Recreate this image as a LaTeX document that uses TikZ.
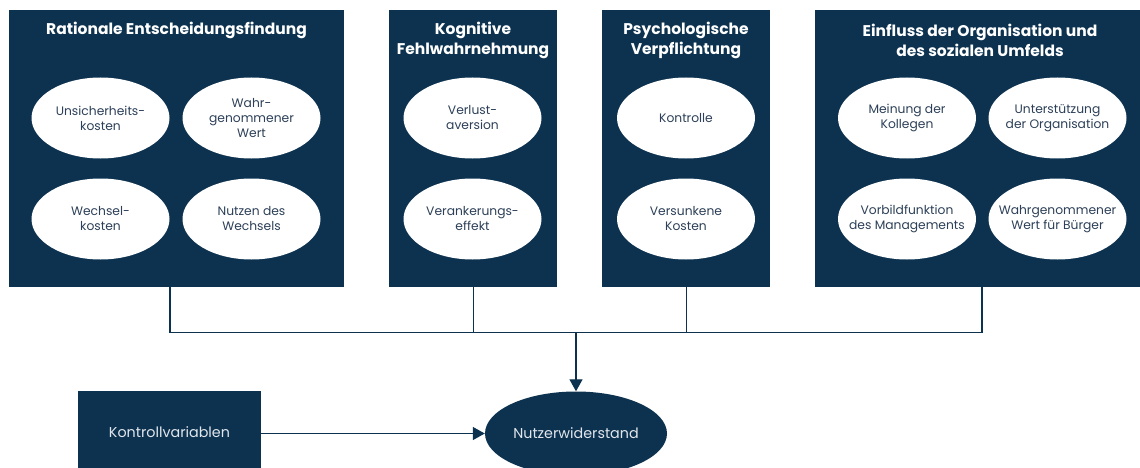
\documentclass[tikz,border=0pt]{standalone}
\usepackage{fontspec}
\setmainfont{Poppins}
\usetikzlibrary{shapes.geometric,arrows.meta}
\definecolor{navy}{RGB}{12,50,80}
\definecolor{etext}{RGB}{45,64,88}
\definecolor{ltext}{RGB}{225,230,236}
\begin{document}
\begin{tikzpicture}[x=1pt,y=-1pt,
  panel/.style={fill=navy,draw=none,anchor=north west,inner sep=0pt},
  ptitle/.style={text=white,font=\fontsize{15.5}{19.5}\selectfont\bfseries,align=center,inner sep=0pt},
  oval/.style={ellipse,fill=white,draw=none,minimum width=138pt,minimum height=81pt,
    inner xsep=-18pt,inner ysep=-8pt,
    text=etext,font=\fontsize{12.3}{15}\selectfont,align=center},
  conn/.style={draw=navy,line width=1.3pt},
  tip/.style={-{Triangle[length=12pt,width=13pt]}}]
\useasboundingbox (0,0) rectangle (1140,468);
\clip (0,0) rectangle (1140,468);
% panels
\node[panel,minimum width=335pt,minimum height=277pt] (b1) at (9,10) {};
\node[panel,minimum width=168pt,minimum height=277pt] (b2) at (389,10) {};
\node[panel,minimum width=168pt,minimum height=277pt] (b3) at (602,10) {};
\node[panel,minimum width=330pt,minimum height=277pt] (b4) at (815,10) {};
% titles
\node[ptitle] (t1) at (176.5,30.5) {Rationale Entscheidungsfindung};
\node[ptitle] (t2) at (473,40.5) {Kognitive\\Fehlwahrnehmung};
\node[ptitle] (t3) at (686,40.5) {Psychologische\\Verpflichtung};
\node[ptitle] (t4) at (980,40.5) {Einfluss der Organisation und\\des sozialen Umfelds};
% ovals
\node[oval] (e11) at (100.5,118) {Unsicherheits-\\kosten};
\node[oval] (e12) at (251.5,118) {Wahr-\\genommener\\Wert};
\node[oval] (e13) at (100.5,219) {Wechsel-\\kosten};
\node[oval] (e14) at (251.5,219) {Nutzen des\\Wechsels};
\node[oval] (e21) at (472.5,118) {Verlust-\\aversion};
\node[oval] (e22) at (472.5,219) {Verankerungs-\\effekt};
\node[oval] (e31) at (686,118) {Kontrolle};
\node[oval] (e32) at (686,219) {Versunkene\\Kosten};
\node[oval] (e41) at (907,118) {Meinung der\\Kollegen};
\node[oval] (e42) at (1057.5,118) {Unterstützung\\der Organisation};
\node[oval] (e43) at (907,219) {Vorbildfunktion\\des Managements};
\node[oval] (e44) at (1057.5,219) {Wahrgenommener\\Wert für Bürger};
% bottom
\node[panel,minimum width=183pt,minimum height=90pt] (kv) at (78,391) {};
\node[text=ltext,font=\fontsize{14.3}{16}\selectfont,inner sep=0pt] (kvt) at (169.5,432) {Kontrollvariablen};
\node[ellipse,fill=navy,minimum width=182pt,minimum height=84pt,inner sep=0pt,
  text=ltext,font=\fontsize{14.3}{16}\selectfont] (nw) at (576,433.5) {Nutzerwiderstand};
% connectors
\coordinate (j) at (576,332.5);
\coordinate (s1) at (170,287);
\coordinate (s4) at (982,287);
\draw[conn] (s1) |- (j);
\draw[conn] (s4) |- (j);
\draw[conn] (b2.south) -- (b2.south |- j);
\draw[conn] (b3.south) -- (b3.south |- j);
\draw[conn,tip] (j) -- (nw.north);
\draw[conn,tip] (kv.east |- nw) -- (nw.west);
\end{tikzpicture}
\end{document}
